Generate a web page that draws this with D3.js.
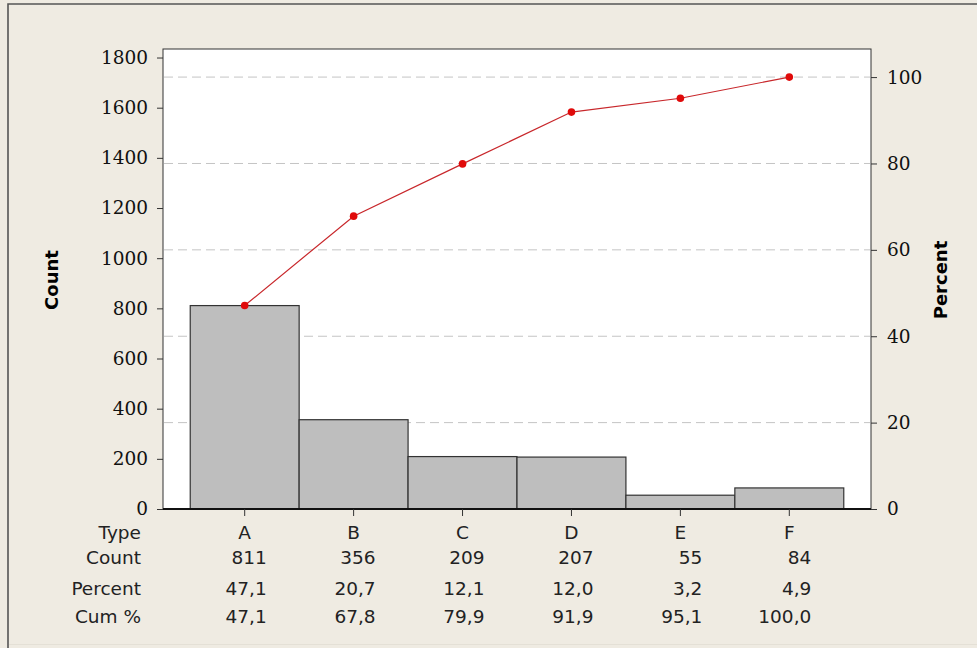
<!DOCTYPE html>
<html>
<head>
<meta charset="utf-8">
<script src="https://cdn.jsdelivr.net/npm/d3@7"></script>
<style>
  html, body { margin: 0; padding: 0; background: #efebe2; }
  svg { display: block; }
</style>
</head>
<body>
<svg id="chart" width="977" height="648"></svg>
<script>
// ---------- data ----------
const types = ["A", "B", "C", "D", "E", "F"];
const counts = [811, 356, 209, 207, 55, 84];
const percents = [47.1, 20.7, 12.1, 12.0, 3.2, 4.9];
const cumPercents = [47.1, 67.8, 79.9, 91.9, 95.1, 100.0];
const countTicks = [0, 200, 400, 600, 800, 1000, 1200, 1400, 1600, 1800];
const pctTicks = [0, 20, 40, 60, 80, 100];
const rowLabels = ["Type", "Count", "Percent", "Cum %"];

const total = d3.sum(counts);
const countMax = 1834;

const svg = d3.select("#chart");
const plot = { left: 163, right: 871, top: 49, bottom: 509 };

const serif = "'DejaVu Serif', serif";
const sans = "'DejaVu Sans', sans-serif";

// outer frame: top and left edges dark, bottom edge faint
svg.append("path")
  .attr("d", "M8,648 L8,4 L977,4")
  .attr("fill", "none")
  .attr("stroke", "#555").attr("stroke-width", 1.6);
svg.append("line")
  .attr("x1", 9).attr("x2", 977).attr("y1", 644.5).attr("y2", 644.5)
  .attr("stroke", "#e4e0d6").attr("stroke-width", 1);

const x = d3.scaleBand()
  .domain(types)
  .range([plot.left, plot.right])
  .paddingInner(0)
  .paddingOuter(0.25);

const yCount = d3.scaleLinear().domain([0, countMax]).range([plot.bottom, plot.top]);
const yPct = d3.scaleLinear().domain([0, countMax / total * 100]).range([plot.bottom, plot.top]);

// plot area
svg.append("rect")
  .attr("x", plot.left).attr("y", plot.top)
  .attr("width", plot.right - plot.left).attr("height", plot.bottom - plot.top)
  .attr("fill", "#fff")
  .attr("stroke", "#333").attr("stroke-width", 1);

// dashed gridlines at percent ticks
svg.append("g")
  .selectAll("line")
  .data(pctTicks.filter(d => d > 0))
  .join("line")
  .attr("x1", plot.left + 1).attr("x2", plot.right - 1)
  .attr("y1", d => yPct(d)).attr("y2", d => yPct(d))
  .attr("stroke", "#c4c4c4")
  .attr("stroke-width", 1)
  .attr("stroke-dasharray", "9,5");

// bars
svg.append("g")
  .selectAll("rect")
  .data(counts)
  .join("rect")
  .attr("x", (d, i) => x(types[i]))
  .attr("y", d => yCount(d))
  .attr("width", x.bandwidth())
  .attr("height", d => yCount(0) - yCount(d))
  .attr("fill", "#bebebe")
  .attr("stroke", "#333")
  .attr("stroke-width", 1.2);

// bottom axis line
svg.append("line")
  .attr("x1", plot.left).attr("x2", plot.right)
  .attr("y1", plot.bottom).attr("y2", plot.bottom)
  .attr("stroke", "#111").attr("stroke-width", 2);

// cumulative percent line
const cx = (d, i) => x(types[i]) + x.bandwidth() / 2;
svg.append("path")
  .datum(cumPercents)
  .attr("fill", "none")
  .attr("stroke", "#c8272b")
  .attr("stroke-width", 1.2)
  .attr("d", d3.line().x(cx).y(d => yPct(d)));

svg.append("g")
  .selectAll("circle")
  .data(cumPercents)
  .join("circle")
  .attr("cx", cx)
  .attr("cy", d => yPct(d))
  .attr("r", 3.8)
  .attr("fill", "#e00a0a");

// left axis
const leftAxis = svg.append("g")
  .attr("transform", `translate(${plot.left},0)`)
  .call(d3.axisLeft(yCount).tickValues(countTicks).tickSize(6).tickPadding(9).tickFormat(d3.format("d")));
leftAxis.select(".domain").remove();
leftAxis.selectAll("line").attr("stroke", "#333");
leftAxis.selectAll("text").attr("font-family", serif).attr("font-size", 18.5).attr("fill", "#111");

// right axis
const rightAxis = svg.append("g")
  .attr("transform", `translate(${plot.right},0)`)
  .call(d3.axisRight(yPct).tickValues(pctTicks).tickSize(6).tickPadding(10));
rightAxis.select(".domain").remove();
rightAxis.selectAll("line").attr("stroke", "#333");
rightAxis.selectAll("text").attr("font-family", serif).attr("font-size", 18.5).attr("fill", "#111");

// category ticks
svg.append("g")
  .selectAll("line")
  .data(types)
  .join("line")
  .attr("x1", d => x(d) + x.bandwidth() / 2).attr("x2", d => x(d) + x.bandwidth() / 2)
  .attr("y1", plot.bottom).attr("y2", plot.bottom + 7)
  .attr("stroke", "#333");

// axis titles
svg.append("text")
  .attr("transform", "translate(58,280) rotate(-90)")
  .attr("text-anchor", "middle")
  .attr("font-family", sans).attr("font-weight", "bold").attr("font-size", 18)
  .text("Count");

svg.append("text")
  .attr("transform", "translate(947,280) rotate(-90)")
  .attr("text-anchor", "middle")
  .attr("font-family", sans).attr("font-weight", "bold").attr("font-size", 18)
  .text("Percent");

// table under the chart
const rowY = [539, 564, 595, 623];
const fmt = v => d3.format(".1f")(v).replace(".", ",");
const table = svg.append("g").attr("font-family", sans).attr("font-size", 18.5).attr("fill", "#222");

table.selectAll(".rowlabel")
  .data(rowLabels)
  .join("text")
  .attr("class", "rowlabel")
  .attr("x", 141)
  .attr("y", (d, i) => rowY[i])
  .attr("text-anchor", "end")
  .text(d => d);

table.selectAll(".type")
  .data(types)
  .join("text")
  .attr("class", "type")
  .attr("x", d => x(d) + x.bandwidth() / 2)
  .attr("y", rowY[0])
  .attr("text-anchor", "middle")
  .text(d => d);

const rows = [counts.map(String), percents.map(fmt), cumPercents.map(fmt)];
rows.forEach((vals, r) => {
  table.selectAll(".r" + r)
    .data(vals)
    .join("text")
    .attr("class", "r" + r)
    .attr("x", (d, i) => x(types[i]) + x.bandwidth() / 2 + 22)
    .attr("y", rowY[r + 1])
    .attr("text-anchor", "end")
    .text(d => d);
});
</script>
</body>
</html>
